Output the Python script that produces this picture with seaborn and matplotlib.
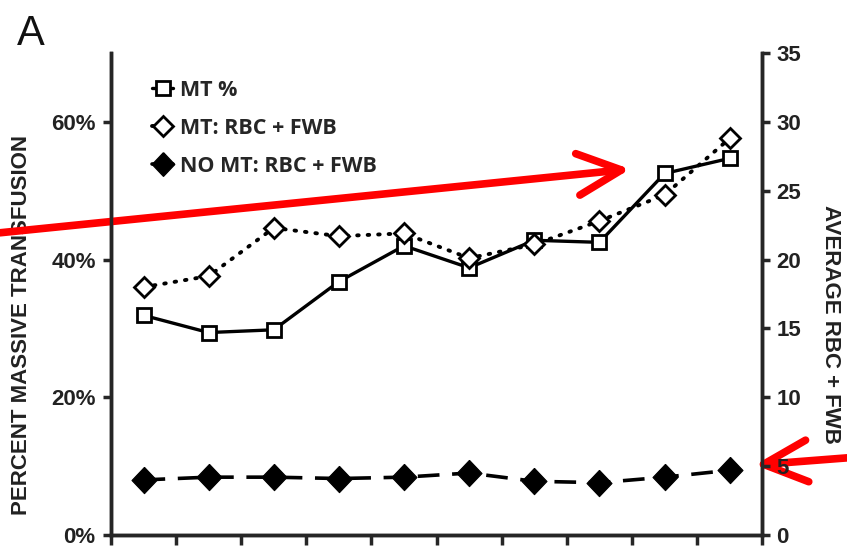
import matplotlib
matplotlib.use("Agg")
import matplotlib.pyplot as plt
import seaborn as sns
import pandas as pd
from matplotlib.lines import Line2D
from matplotlib.ticker import PercentFormatter

sns.set_style("white")
plt.rcParams['font.family'] = ['Liberation Sans', 'DejaVu Sans']

# data
groups = [1, 2, 3, 4, 5, 6, 7, 8, 9, 10]
mt_pct = [31.9, 29.4, 29.8, 36.8, 42.0, 38.8, 42.8, 42.5, 52.5, 54.7]
mt_units = [18.0, 18.8, 22.3, 21.7, 21.9, 20.1, 21.1, 22.8, 24.7, 28.8]
nomt_units = [4.0, 4.2, 4.2, 4.1, 4.2, 4.5, 3.9, 3.8, 4.2, 4.7]

df = pd.DataFrame({'group': groups, 'mt_pct': mt_pct,
                   'mt_units': mt_units, 'nomt_units': nomt_units})

dotted = (0, (0.4, 2.3))
dashed = (0, (6, 3.5))
solid_diamond = [(0, 1), (0.95, 0), (0, -1), (-0.95, 0), (0, 1)]

fig = plt.figure(figsize=(8.47, 5.49), dpi=100)
ax = fig.add_axes([0.131, 0.0255, 0.769, 0.878])
ax2 = ax.twinx()

# left axis: MT %
sns.lineplot(data=df, x='group', y='mt_pct', ax=ax, color='black', lw=2.4,
             marker='s', markersize=10, markerfacecolor='white',
             markeredgecolor='black', markeredgewidth=2)

# right axis: average RBC + FWB
sns.lineplot(data=df, x='group', y='mt_units', ax=ax2, color='black', lw=2.8,
             linestyle=dotted, dash_capstyle='round',
             marker='D', markersize=10, markerfacecolor='white',
             markeredgecolor='black', markeredgewidth=2)
sns.lineplot(data=df, x='group', y='nomt_units', ax=ax2, color='black', lw=2.6,
             linestyle=dashed,
             marker=solid_diamond, markersize=19, markerfacecolor='black',
             markeredgecolor='black')

ax.set_ylim(0, 70)
ax2.set_ylim(0, 35)
ax.set_xlim(0.5, 10.5)
ax.set_yticks([0, 20, 40, 60])
ax.yaxis.set_major_formatter(PercentFormatter(decimals=0))
ax2.set_yticks(range(0, 36, 5))
ax.set_xticks([g - 0.5 for g in groups] + [10.5])
ax.set_xticklabels([])
ax.set_xlabel('')
ax2.set_xlabel('')

for a in (ax, ax2):
    a.spines['top'].set_visible(False)
    for s in a.spines.values():
        s.set_linewidth(2.5)
    a.tick_params(width=2.5, length=6, direction='out', labelsize=16)
    for lab in a.get_yticklabels():
        lab.set_fontweight('bold')
        lab.set_color('#222222')
ax.tick_params(axis='y', left=True, pad=5)
ax.tick_params(axis='x', bottom=True, length=7)
ax2.tick_params(axis='y', right=True, pad=4)

ax.set_ylabel('PERCENT MASSIVE TRANSFUSION', fontsize=16, fontweight='bold',
              color='#222222', va='center')
ax.yaxis.set_label_coords(-0.137, 0.436)
ax2.set_ylabel('AVERAGE RBC + FWB', fontsize=16, fontweight='bold',
               color='#222222', rotation=270, va='center')
ax2.yaxis.set_label_coords(1.104, 0.436)

handles = [
    Line2D([], [], color='black', lw=2.4, marker='s', markersize=10,
           markerfacecolor='white', markeredgewidth=2),
    Line2D([], [], color='black', lw=2.8, linestyle=dotted,
           dash_capstyle='round', marker='D', markersize=10,
           markerfacecolor='white', markeredgewidth=2),
    Line2D([], [], color='black', lw=2.6, marker=solid_diamond, markersize=17,
           markerfacecolor='black'),
]
labels = ['MT %', 'MT: RBC + FWB', 'NO MT: RBC + FWB']
ax2.legend(handles, labels, loc='upper left', bbox_to_anchor=(0.033, 0.985),
           frameon=False, handlelength=1.0, handletextpad=0.3,
           labelspacing=0.8, prop={'family': 'Open Sans', 'weight': 'bold', 'size': 15.5})

fig.text(0.02, 0.975, 'A', fontsize=30, va='top', ha='left', color='#111111')

# red arrows
arrow_style = dict(arrowstyle='->,head_length=1.05,head_width=0.5',
                   color='#ff0000', lw=5.5, mutation_scale=30,
                   shrinkA=0, shrinkB=0, capstyle='round', joinstyle='round')
ax.annotate('', xy=(0.744, 0.692), xytext=(0.0, 0.576),
            xycoords='figure fraction', textcoords='figure fraction',
            arrowprops=arrow_style, annotation_clip=False)
ax.annotate('', xy=(0.891, 0.153), xytext=(1.0, 0.166),
            xycoords='figure fraction', textcoords='figure fraction',
            arrowprops=arrow_style, annotation_clip=False)

plt.savefig('out.png', dpi=100)
